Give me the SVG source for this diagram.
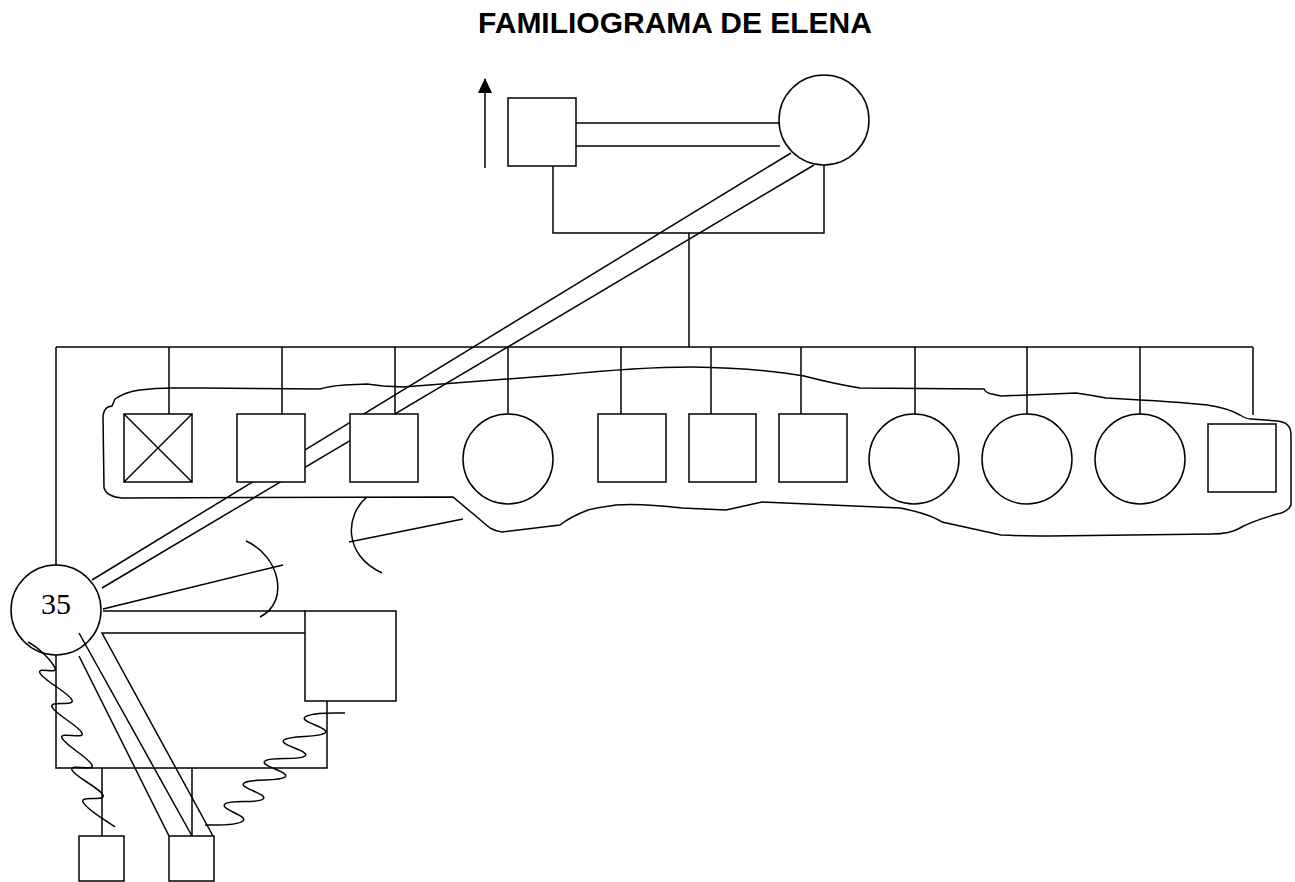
<svg xmlns="http://www.w3.org/2000/svg" width="1295" height="882" viewBox="0 0 1295 882">
<style>
.ln{fill:none;stroke:#000;stroke-width:1.5}
.nd{fill:#fff;stroke:#000;stroke-width:1.5}
.nf{fill:none;stroke:#000;stroke-width:1.5}
.title{font-family:"Liberation Sans",Arial,sans-serif;font-weight:bold;font-size:30px;fill:#000}
.age{font-family:"Liberation Serif","Times New Roman",serif;font-size:30px;fill:#000}
</style>
<defs>
<marker id="ah" viewBox="0 0 15 14" refX="14" refY="7" markerWidth="15" markerHeight="14" markerUnits="userSpaceOnUse" orient="auto">
<path d="M0,0 L15,7 L0,14 Z" fill="#000"/>
</marker>
</defs>
<rect width="1295" height="882" fill="#fff"/>
<text class="title" x="675" y="33" text-anchor="middle">FAMILIOGRAMA DE ELENA</text>

<g id="connectors">
<!-- arrow beside father -->
<line class="ln" x1="485" y1="168" x2="485" y2="79" marker-end="url(#ah)"/>
<!-- parents marriage -->
<line class="ln" x1="576" y1="123" x2="779" y2="123"/>
<line class="ln" x1="576" y1="146" x2="780" y2="146"/>
<polyline class="ln" points="553,166 553,233 824,233 824,165"/>
<line class="ln" x1="689" y1="233" x2="689" y2="347"/>
<!-- sibling line -->
<line class="ln" x1="56" y1="347" x2="1253" y2="347"/>
<line class="ln" x1="56" y1="347" x2="56" y2="565"/>
<line class="ln" x1="169" y1="347" x2="169" y2="414"/>
<line class="ln" x1="282" y1="347" x2="282" y2="414"/>
<line class="ln" x1="395" y1="347" x2="395" y2="414"/>
<line class="ln" x1="508" y1="347" x2="508" y2="414"/>
<line class="ln" x1="621" y1="347" x2="621" y2="414"/>
<line class="ln" x1="711" y1="347" x2="711" y2="414"/>
<line class="ln" x1="801" y1="347" x2="801" y2="414"/>
<line class="ln" x1="915" y1="347" x2="915" y2="414"/>
<line class="ln" x1="1027" y1="347" x2="1027" y2="414"/>
<line class="ln" x1="1140" y1="347" x2="1140" y2="414"/>
<line class="ln" x1="1253" y1="347" x2="1253" y2="415"/>
<!-- double line mother - Elena -->
<line class="ln" x1="791" y1="153" x2="92" y2="580"/>
<line class="ln" x1="814" y1="165" x2="102" y2="588"/>
<!-- cut-off lines -->
<line class="ln" x1="103" y1="609" x2="283" y2="565"/>
<path class="ln" d="M246,541 C280,556 290,602 260,617"/>
<line class="ln" x1="349" y1="542" x2="463" y2="519"/>
<path class="ln" d="M367,497 C345,515 343,555 382,573"/>
<!-- Elena marriage -->
<line class="ln" x1="103" y1="611" x2="305" y2="611"/>
<polyline class="ln" points="305,633 102,633 213,836"/>
<line class="ln" x1="79" y1="633" x2="192" y2="836"/>
<line class="ln" x1="79" y1="656" x2="169" y2="836"/>
<polyline class="ln" points="56,655 56,768 327,768 327,701"/>
<line class="ln" x1="102" y1="768" x2="102" y2="836"/>
<line class="ln" x1="192" y1="768" x2="192" y2="836"/>
<!-- violent relationships -->
<path class="ln" d="M28,642 C38,647 52,661 55,668 C58,675 37,666 40,673 C43,680 69,693 72,700 C75,707 49,700 52,707 C55,714 79,726 82,733 C85,740 59,731 62,738 C65,745 89,758 92,765 C95,772 69,763 72,770 C75,777 100,788 103,795 C106,802 80,795 83,802 C86,809 105,820 115,827"/>
<path class="ln" d="M345,713 C333,713 311,712 305,717 C299,722 331,728 325,733 C319,738 290,735 284,740 C278,745 311,751 305,756 C299,761 271,756 265,761 C259,766 291,772 285,777 C279,782 250,778 244,783 C238,788 269,794 263,799 C257,804 231,799 225,804 C219,809 249,816 243,821 C237,826 215,825 205,825"/>
</g>

<g id="enclosure">
<path class="ln" d="M115,399 Q125,392 140,390 Q155,388 172,388 L202,388 L320,389 Q330,386 345,385 L367,384 L383,386 L403,387 L560,375 Q640,367 691,367 Q760,368 804,376 Q835,384 860,388 L984,389 Q986,393 992,394 L1001,396 L1076,393 Q1090,395 1106,398 Q1180,402 1207,405 Q1228,408 1240,415 Q1246,419 1251,419 L1277,421 Q1291,422 1291,435 L1291,505 Q1288,512 1277,514 Q1250,522 1240,528 Q1230,534 1212,534 L1050,536 Q1020,536 1001,535 L942,522 Q930,514 900,508 L762,502 L726,510 L682,508 Q640,503 616,505 Q595,508 588,510 Q570,517 560,525 L502,532 Q495,531 490,528 L453,497 L122,498 Q107,497 104,488 L103,416 Q104,409 108,407 L112,406 L115,399"/>
</g>

<g id="father"><rect class="nd" x="508" y="98" width="68" height="68"/></g>
<g id="mother"><circle class="nd" cx="824" cy="120" r="45"/></g>
<g id="sibling1"><rect class="nd" x="124" y="414" width="68" height="68"/><line class="ln" x1="124" y1="414" x2="192" y2="482"/><line class="ln" x1="192" y1="414" x2="124" y2="482"/></g>
<g id="sibling2"><rect class="nd" x="237" y="414" width="68" height="68"/></g>
<g id="sibling3"><rect class="nd" x="350" y="414" width="68" height="68"/></g>
<g id="sibling4"><circle class="nd" cx="508" cy="459" r="45"/></g>
<g id="sibling5"><rect class="nd" x="598" y="414" width="68" height="68"/></g>
<g id="sibling6"><rect class="nd" x="689" y="414" width="67" height="68"/></g>
<g id="sibling7"><rect class="nd" x="779" y="414" width="68" height="68"/></g>
<g id="sibling8"><circle class="nd" cx="914" cy="459" r="45"/></g>
<g id="sibling9"><circle class="nd" cx="1027" cy="459" r="45"/></g>
<g id="sibling10"><circle class="nd" cx="1140" cy="459" r="45"/></g>
<g id="sibling11"><rect class="nd" x="1208" y="424" width="68" height="68"/></g>
<g id="elena"><circle class="nf" cx="56" cy="610" r="45"/><text class="age" x="56" y="614" text-anchor="middle">35</text></g>
<g id="husband"><rect class="nd" x="305" y="611" width="91" height="90"/></g>
<g id="child1"><rect class="nd" x="79" y="836" width="45" height="45"/></g>
<g id="child2"><rect class="nd" x="169" y="836" width="45" height="45"/></g>
</svg>
